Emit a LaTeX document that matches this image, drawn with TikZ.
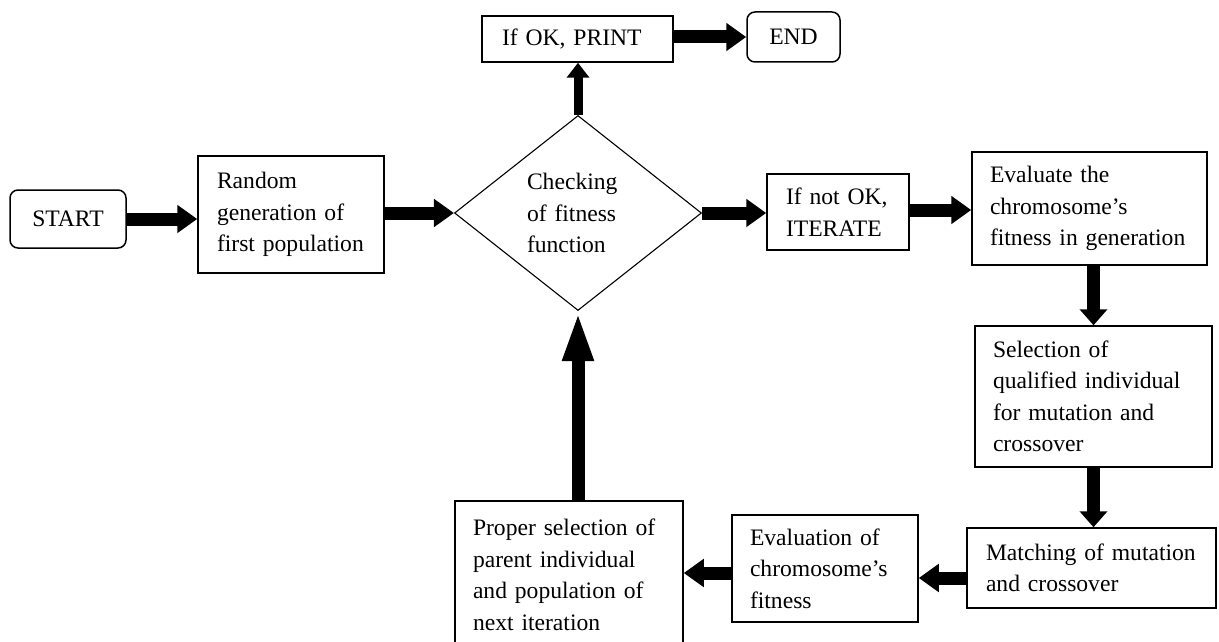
\documentclass[tikz,border=0pt]{standalone}
\usepackage{fontspec}
\setmainfont{Liberation Serif}
\usetikzlibrary{arrows.meta,shapes.geometric,calc}

\begin{document}
\begin{tikzpicture}[x=1pt, y=-1pt,
    box/.style={draw, line width=1.5pt, align=left, inner ysep=0pt,
        font=\fontsize{23.6}{31.5}\selectfont},
    term/.style={box, rounded corners=8pt, align=center},
    fat/.style={line width=13pt, -{Triangle[width=27pt, length=20pt]}}]
    \useasboundingbox (0,0) rectangle (1219,642);
    \clip (0,0) rectangle (1219,642);
    \node[term, minimum width=116pt, minimum height=58pt] (start) at (68,219) {START};
    \node[box, minimum width=186pt, minimum height=117pt, text width=148pt, inner xsep=19pt] (rand) at (291,214.5)
        {Random\\generation of\\first population};
    \node[draw, diamond, line width=1.1pt, minimum width=247pt, minimum height=195pt, inner sep=0pt,
        text width=102pt, align=left, font=\fontsize{23.6}{31.5}\selectfont] (check) at (578,213)
        {Checking\\of fitness\\function};
    \node[box, minimum width=191pt, minimum height=46pt, text width=151pt, inner xsep=20pt] (print) at (577.5,39)
        {If OK, PRINT};
    \node[term, minimum width=93pt, minimum height=50pt] (finish) at (793.5,37) {END};
    \node[box, minimum width=142pt, minimum height=76pt, text width=104pt, inner xsep=19pt] (iter) at (838,212)
        {If not OK,\\ITERATE};
    \node[box, minimum width=235pt, minimum height=113pt, text width=199pt, inner xsep=18pt] (evalgen) at (1089.5,208.5)
        {Evaluate the\\chromosome’s\\fitness in generation};
    \node[box, minimum width=237pt, minimum height=141pt, text width=201pt, inner xsep=18pt] (select) at (1093.5,396.5)
        {Selection of\\qualified individual\\for mutation and\\crossover};
    \node[box, minimum width=249pt, minimum height=80pt, text width=211pt, inner xsep=19pt] (match) at (1091.5,568)
        {Matching of mutation\\and crossover};
    \node[box, minimum width=186pt, minimum height=107pt, text width=150pt, inner xsep=18pt] (evalfit) at (825,568.5)
        {Evaluation of\\chromosome’s\\fitness};
    \node[box, minimum width=228pt, minimum height=148pt, text width=192pt, inner xsep=18pt] (proper) at (569,575)
        {Proper selection of\\parent individual\\and population of\\next iteration};
    \draw[fat] (start.east) -- (start.east -| rand.west);
    \draw[fat] (rand.east |- check.west) -- (check.west);
    \draw[fat] (check.east) -- (check.east -| iter.west);
    \draw[fat] ([yshift=2pt]iter.east) -- ([yshift=2pt]iter.east -| evalgen.west);
    \draw[fat, -{Triangle[width=27pt, length=16pt]}] (select.north |- evalgen.south) -- (select.north);
    \draw[fat, -{Triangle[width=27pt, length=16pt]}] (select.south) -- (select.south |- match.north);
    \draw[fat] ([yshift=-10pt]match.west) -- ([yshift=-10pt]match.west -| evalfit.east);
    \draw[fat] ([yshift=-4.5pt]evalfit.west) -- ([yshift=-4.5pt]evalfit.west -| proper.east);
    \draw[fat, -{Triangle[width=28pt, length=50pt]}] (check.south |- proper.north) -- (check.south);
    \draw[line width=9pt, -{Triangle[width=22pt, length=15pt]}] (check.north) -- (check.north |- print.south);
    \draw[fat] ([yshift=2pt]print.east) -- ([yshift=2pt]print.east -| finish.west);
\end{tikzpicture}
\end{document}
